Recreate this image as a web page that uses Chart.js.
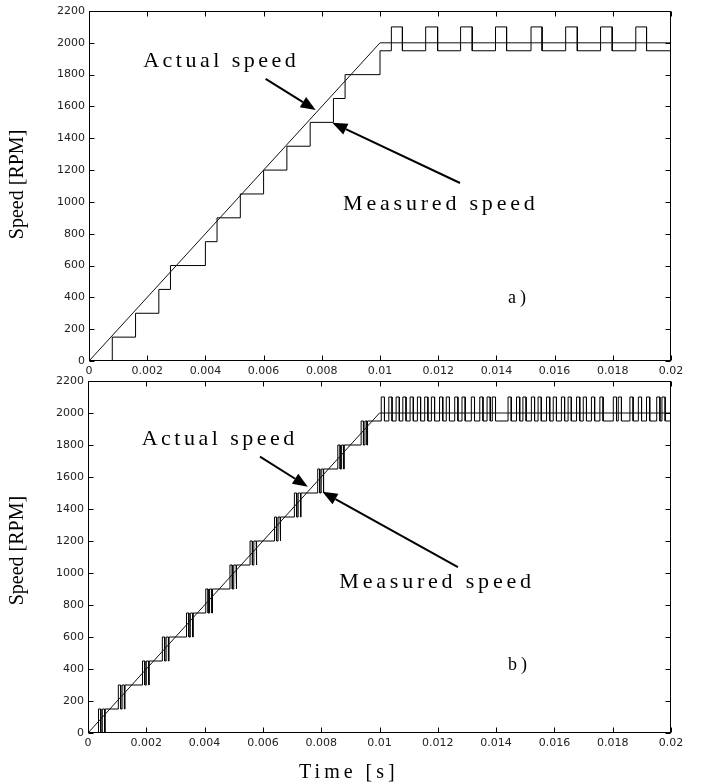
<!DOCTYPE html>
<html>
<head>
<meta charset="utf-8">
<script src="https://cdn.jsdelivr.net/npm/chart.js@4.4.0/dist/chart.umd.min.js"></script>
<style>
  html, body { margin: 0; padding: 0; background: #fff; }
  #wrap { position: relative; width: 706px; height: 783px; }
  canvas { position: absolute; left: 0; }
  #chartA { top: 0; }
  #chartB { top: 366px; }
</style>
</head>
<body>
<div id="wrap">
  <canvas id="chartA" width="706" height="378"></canvas>
  <canvas id="chartB" width="706" height="417"></canvas>
</div>
<script>
// axes
const xTicks = [0, 0.002, 0.004, 0.006, 0.008, 0.01, 0.012, 0.014, 0.016, 0.018, 0.02];
const xTickLabels = ['0', '0.002', '0.004', '0.006', '0.008', '0.01', '0.012', '0.014', '0.016', '0.018', '0.02'];
const yTicks = [0, 200, 400, 600, 800, 1000, 1200, 1400, 1600, 1800, 2000, 2200];

// actual speed (same in both plots)
const actualT = [0, 0.01, 0.02];
const actualV = [0, 2000, 2000];

// a) measured speed: switching times and the level after each switch
const measAT = [0.0008, 0.0016, 0.0024, 0.0028, 0.004, 0.0044, 0.0052, 0.006, 0.0068, 0.0076, 0.0084, 0.0088, 0.01,
  0.01039, 0.01077, 0.01157, 0.01198, 0.01277, 0.01317, 0.01397, 0.01435, 0.01519, 0.01557,
  0.01638, 0.01678, 0.01758, 0.01798, 0.01879, 0.01916, 0.02];
const measAV = [150, 300, 450, 600, 750, 900, 1050, 1200, 1350, 1500, 1650, 1800, 1950,
  2100, 1950, 2100, 1950, 2100, 1950, 2100, 1950, 2100, 1950,
  2100, 1950, 2100, 1950, 2100, 1950, 2000];

// b) measured speed: quantisation levels, chatter around each step, then pulses at the top
const stepLevelsB = [0, 150, 300, 450, 600, 750, 900, 1050, 1200, 1350, 1500, 1650, 1800, 1950];
const chatterB = [
  [0.00036, 0.00044, 0.00049, 0.00057, 0.00059],
  [0.00104, 0.00112, 0.00117, 0.00125, 0.00127],
  [0.00187, 0.00195, 0.00200, 0.00208, 0.00210],
  [0.00255, 0.00263, 0.00268, 0.00276, 0.00278],
  [0.00338, 0.00346, 0.00351, 0.00359, 0.00361],
  [0.00404, 0.00412, 0.00417, 0.00425, 0.00427],
  [0.00487, 0.00495, 0.00500, 0.00508, 0.00510],
  [0.00556, 0.00564, 0.00569, 0.00577, 0.00579],
  [0.00640, 0.00647, 0.00652, 0.00659, 0.00661],
  [0.00708, 0.00716, 0.00721, 0.00729, 0.00731],
  [0.00788, 0.00795, 0.00800, 0.00807, 0.00809],
  [0.00857, 0.00865, 0.00870, 0.00877, 0.00879],
  [0.00937, 0.00945, 0.00950, 0.00957, 0.00959]
];
const pulseHighB = 2100;
const pulseLowB = 1950;
const pulseUpB = [0.01006, 0.01032, 0.01057, 0.01080, 0.01105, 0.01130, 0.01155, 0.01178, 0.01206, 0.01229,
  0.01258, 0.01283, 0.01315, 0.01344, 0.01369, 0.01387, 0.01441, 0.01470, 0.01492, 0.01521,
  0.01544, 0.01573, 0.01596, 0.01624, 0.01647, 0.01676, 0.01699, 0.01727, 0.01756, 0.01802,
  0.01819, 0.01859, 0.01888, 0.01916, 0.01951, 0.01969];
const pulseDownB = [0.01017, 0.01043, 0.01068, 0.01091, 0.01116, 0.01141, 0.01166, 0.01189, 0.01217, 0.01240,
  0.01269, 0.01294, 0.01326, 0.01355, 0.01380, 0.01398, 0.01452, 0.01481, 0.01503, 0.01532,
  0.01555, 0.01584, 0.01607, 0.01635, 0.01658, 0.01687, 0.01710, 0.01738, 0.01767, 0.01813,
  0.01830, 0.01870, 0.01899, 0.01927, 0.01962, 0.01980];
const endLevelB = 2000;

// turn switching times into a staircase polyline
function staircase(times, levels, start) {
  const pts = [{ x: 0, y: start }];
  let prev = start;
  times.forEach((t, i) => {
    pts.push({ x: t, y: prev });
    pts.push({ x: t, y: levels[i] });
    prev = levels[i];
  });
  return pts;
}

function measuredB() {
  const times = [];
  const levels = [];
  chatterB.forEach((sw, k) => {
    const lo = stepLevelsB[k], hi = stepLevelsB[k + 1];
    sw.forEach((t, j) => { times.push(t); levels.push(j % 2 === 0 ? hi : lo); });
  });
  pulseUpB.forEach((t, i) => {
    times.push(t); levels.push(pulseHighB);
    times.push(pulseDownB[i]); levels.push(pulseLowB);
  });
  times.push(0.02); levels.push(endLevelB);
  return staircase(times, levels, 0);
}

function arrow(ctx, x1, y1, x2, y2) {
  const ang = Math.atan2(y2 - y1, x2 - x1);
  const hl = 15, hw = 6;
  const bx = x2 - hl * Math.cos(ang), by = y2 - hl * Math.sin(ang);
  ctx.lineWidth = 2;
  ctx.beginPath();
  ctx.moveTo(x1, y1);
  ctx.lineTo(bx, by);
  ctx.stroke();
  ctx.beginPath();
  ctx.moveTo(x2, y2);
  ctx.lineTo(bx + hw * Math.sin(ang), by - hw * Math.cos(ang));
  ctx.lineTo(bx - hw * Math.sin(ang), by + hw * Math.cos(ang));
  ctx.closePath();
  ctx.fill();
}

// box with inward ticks (matlab style), text labels and arrows
const matlabBox = {
  id: 'matlabBox',
  afterDraw(chart, args, opts) {
    const ctx = chart.ctx;
    const a = chart.chartArea;
    const sx = chart.scales.x, sy = chart.scales.y;
    const L = Math.round(a.left) + 0.5, R = Math.round(a.right) - 0.5;
    const T = Math.round(a.top) + 0.5, B = Math.round(a.bottom) - 0.5;
    ctx.save();
    ctx.strokeStyle = '#000';
    ctx.fillStyle = '#000';
    ctx.lineWidth = 1;
    ctx.strokeRect(L, T, R - L, B - T);
    ctx.beginPath();
    sx.ticks.forEach(tk => {
      const x = Math.round(sx.getPixelForValue(tk.value)) + 0.5;
      ctx.moveTo(x, B); ctx.lineTo(x, B - 5);
      ctx.moveTo(x, T); ctx.lineTo(x, T + 5);
    });
    sy.ticks.forEach(tk => {
      const y = Math.round(sy.getPixelForValue(tk.value)) + 0.5;
      ctx.moveTo(L, y); ctx.lineTo(L + 5, y);
      ctx.moveTo(R, y); ctx.lineTo(R - 5, y);
    });
    ctx.stroke();

    (opts.arrows || []).forEach(ar => {
      arrow(ctx, sx.getPixelForValue(ar.t1), sy.getPixelForValue(ar.v1),
        sx.getPixelForValue(ar.t2), sy.getPixelForValue(ar.v2));
    });

    ctx.textBaseline = 'alphabetic';
    ctx.textAlign = 'left';
    (opts.notes || []).forEach(n => {
      ctx.font = n.size + 'px "Liberation Serif"';
      ctx.letterSpacing = n.spacing + 'px';
      ctx.fillText(n.text, sx.getPixelForValue(n.t), sy.getPixelForValue(n.v));
    });

    // y axis title
    ctx.letterSpacing = '0px';
    ctx.font = '20px "Liberation Serif"';
    ctx.textAlign = 'center';
    ctx.textBaseline = 'middle';
    ctx.save();
    ctx.translate(18, sy.getPixelForValue(opts.yTitleAt));
    ctx.rotate(-Math.PI / 2);
    ctx.fillText('Speed [RPM]', 0, 0);
    ctx.restore();

    if (opts.xTitle) {
      ctx.letterSpacing = '4px';
      ctx.fillText(opts.xTitle, sx.getPixelForValue(opts.xTitleAt), a.bottom + opts.xTitleOffset);
    }
    ctx.restore();
  }
};

function makeChart(id, measured, yWidth, xHeight, padTop, box) {
  return new Chart(document.getElementById(id), {
    type: 'line',
    data: {
      datasets: [
        {
          label: 'Actual speed',
          data: actualT.map((t, i) => ({ x: t, y: actualV[i] })),
          borderColor: '#111',
          borderWidth: 1,
          pointRadius: 0,
          tension: 0
        },
        {
          label: 'Measured speed',
          data: measured,
          borderColor: '#000',
          borderWidth: 1,
          pointRadius: 0,
          tension: 0
        }
      ]
    },
    options: {
      responsive: false,
      animation: false,
      layout: { padding: { top: padTop, right: 35, left: 0, bottom: 0 } },
      plugins: {
        legend: { display: false },
        tooltip: { enabled: false },
        matlabBox: box
      },
      scales: {
        x: {
          type: 'linear',
          min: 0,
          max: 0.02,
          grid: { display: false, drawTicks: false },
          border: { display: false },
          afterBuildTicks: s => { s.ticks = xTicks.map(v => ({ value: v })); },
          afterFit: s => { s.height = xHeight; },
          ticks: {
            autoSkip: false,
            maxRotation: 0,
            padding: 4,
            color: '#222',
            font: { family: '"DejaVu Sans"', size: 11 },
            callback: (v, i) => xTickLabels[i]
          }
        },
        y: {
          type: 'linear',
          min: 0,
          max: 2200,
          grid: { display: false, drawTicks: false },
          border: { display: false },
          afterBuildTicks: s => { s.ticks = yTicks.map(v => ({ value: v })); },
          afterFit: s => { s.width = yWidth; },
          ticks: {
            padding: 4,
            color: '#222',
            font: { family: '"DejaVu Sans"', size: 11 },
            callback: v => String(v)
          }
        }
      }
    },
    plugins: [matlabBox]
  });
}

makeChart('chartA', staircase(measAT, measAV, 0), 89, 17, 11, {
  yTitleAt: 1110,
  notes: [
    { text: 'Actual speed', t: 0.00186, v: 1850, size: 22, spacing: 3.5 },
    { text: 'Measured speed', t: 0.00873, v: 949, size: 22, spacing: 3.8 },
    { text: 'a)', t: 0.0144, v: 365, size: 18, spacing: 4 }
  ],
  arrows: [
    { t1: 0.00607, v1: 1773, t2: 0.00779, v2: 1578 },
    { t1: 0.01275, v1: 1119, t2: 0.00836, v2: 1498 }
  ]
});

makeChart('chartB', measuredB(), 88, 50, 15, {
  yTitleAt: 1140,
  notes: [
    { text: 'Actual speed', t: 0.00184, v: 1800, size: 22, spacing: 3.5 },
    { text: 'Measured speed', t: 0.00862, v: 906, size: 22, spacing: 3.8 },
    { text: 'b)', t: 0.01441, v: 394, size: 18, spacing: 4 }
  ],
  arrows: [
    { t1: 0.0059, v1: 1727, t2: 0.00754, v2: 1539 },
    { t1: 0.01269, v1: 1037, t2: 0.00804, v2: 1508 }
  ],
  xTitle: 'Time [s]',
  xTitleAt: 0.00895,
  xTitleOffset: 40
});
</script>
</body>
</html>
